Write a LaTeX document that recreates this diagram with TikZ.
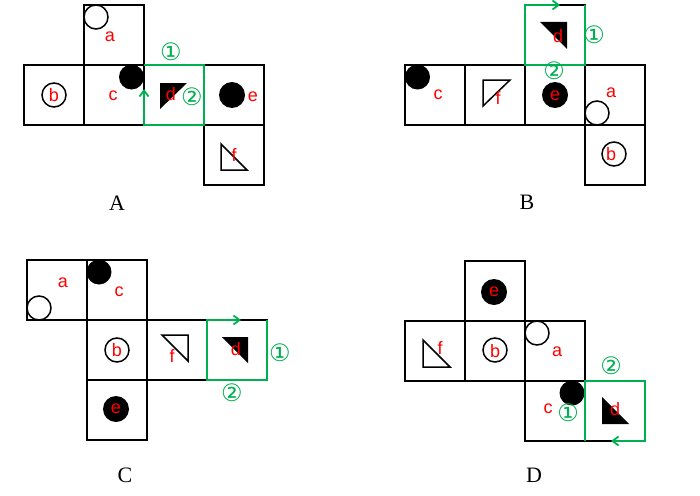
\documentclass[tikz,border=0pt]{standalone}
\usepackage{fontspec}
\setmainfont{Liberation Serif}
\newfontfamily\lblfont{Liberation Sans}
\newfontfamily\symfont{DejaVu Sans}
\usetikzlibrary{arrows.meta}
\definecolor{grn}{RGB}{0,176,80}
\begin{document}
\begin{tikzpicture}[x=1pt,y=-1pt,
  face/.style={draw, line width=2pt, minimum size=60pt, inner sep=0pt, outer sep=0pt},
  ring/.style={draw, line width=1.5pt},
  dot/.style={fill=black},
  tri/.style={draw, line width=1.5pt, line join=miter},
  letter/.style={text=red, font=\lblfont\fontsize{18}{18}\selectfont, inner sep=0pt},
  num/.style={text=grn, font=\symfont\fontsize{24}{24}\selectfont, inner sep=0pt},
  title/.style={font=\fontsize{22}{22}\selectfont, inner sep=0pt},
  gpath/.style={draw=grn, line width=2pt, line join=miter, -{Straight Barb[length=6pt,width=9pt,line width=1.8pt]}}
]
\useasboundingbox (0,0) rectangle (700,495);

% ---------------- Panel A ----------------
\node[face] (aA) at (114,35) {};
\node[face] (bA) at (54,95) {};
\node[face] (cA) at (114,95) {};
\node[face] (dA) at (174,95) {};
\node[face] (eA) at (234,95) {};
\node[face] (fA) at (234,155) {};
\draw[ring] (96,17) circle (12);
\draw[ring] (54,95) circle (12);
\fill[dot] (131.5,77) circle (12.5);
\fill (160,83) -- (187,83) -- (160,109) -- cycle;
\fill[dot] (232,95) circle (13);
\draw[tri] (221,144) -- (221,170) -- (247,170) -- cycle;
\coordinate (gA) at (144,89);
\path[gpath] (dA.north west) -- (dA.north east) -- (dA.south east) -- (dA.south west) -- (gA);
\node[letter] (la) at (110,37) {a};
\node[letter] (lb) at (54,95) {b};
\node[letter] (lc) at (113,96) {c};
\node[letter] (ld) at (171,94) {d};
\node[letter] (le) at (253,97) {e};
\node[letter] (lf) at (234,155) {f};
\node[num] (n1A) at (171,52) {①};
\node[num] (n2A) at (192,97) {②};
\node[title] (tA) at (117,203) {A};

% ---------------- Panel B ----------------
\node[face] (dB) at (555,35) {};
\node[face] (cB) at (435,95) {};
\node[face] (fB) at (495,95) {};
\node[face] (eB) at (555,95) {};
\node[face] (aB) at (615,95) {};
\node[face] (bB) at (615,155) {};
\fill (540,22) -- (567,22) -- (567,49) -- cycle;
\fill[dot] (417.5,77) circle (12.5);
\draw[tri] (483,80) -- (510,80) -- (483,106) -- cycle;
\fill[dot] (555,95) circle (13);
\draw[ring] (597,113) circle (12);
\draw[ring] (614,154) circle (12);
\coordinate (gB) at (560,5);
\path[gpath] (dB.north east) -- (dB.south east) -- (dB.south west) -- (dB.north west) -- (gB);
\node[letter] (ldB) at (558,36) {d};
\node[letter] (lcB) at (438,95) {c};
\node[letter] (lfB) at (498,98) {f};
\node[letter] (leB) at (555,96) {e};
\node[letter] (laB) at (611,93) {a};
\node[letter] (lbB) at (611,154) {b};
\node[num] (n1B) at (594,35) {①};
\node[num] (n2B) at (554,71) {②};
\node[title] (tB) at (527,202) {B};

% ---------------- Panel C ----------------
\node[face] (aC) at (57,290) {};
\node[face] (cC) at (117,290) {};
\node[face] (bC) at (117,350) {};
\node[face] (fC) at (177,350) {};
\node[face] (dC) at (237,350) {};
\node[face] (eC) at (117,410) {};
\draw[ring] (39,308) circle (12);
\fill[dot] (99,272) circle (12.5);
\draw[ring] (117,350) circle (12);
\draw[tri] (162,335) -- (188,335) -- (188,361) -- cycle;
\fill (222,337) -- (248,337) -- (248,363) -- cycle;
\fill[dot] (116,409) circle (13);
\coordinate (gC) at (241,320);
\path[gpath] (dC.north east) -- (dC.south east) -- (dC.south west) -- (dC.north west) -- (gC);
\node[letter] (laC) at (63,283) {a};
\node[letter] (lcC) at (119,292) {c};
\node[letter] (lbC) at (117,350) {b};
\node[letter] (lfC) at (172,356) {f};
\node[letter] (ldC) at (236,349) {d};
\node[letter] (leC) at (116,409) {e};
\node[num] (n1C) at (280,353) {①};
\node[num] (n2C) at (232,393) {②};
\node[title] (tC) at (125,475) {C};

% ---------------- Panel D ----------------
\node[face] (eD) at (495,291) {};
\node[face] (fD) at (435,351) {};
\node[face] (bD) at (495,351) {};
\node[face] (aD) at (555,351) {};
\node[face] (cD) at (555,411) {};
\node[face] (dD) at (615,411) {};
\fill[dot] (494,292) circle (13);
\draw[tri] (423,340) -- (423,367) -- (450,367) -- cycle;
\draw[ring] (495,350) circle (12);
\draw[ring] (537,333) circle (12);
\fill[dot] (572,393) circle (12.5);
\fill (602,397) -- (602,424) -- (629,424) -- cycle;
\coordinate (gD) at (611,441);
\path[gpath] (dD.south west) -- (dD.north west) -- (dD.north east) -- (dD.south east) -- (gD);
\node[letter] (leD) at (494,292) {e};
\node[letter] (lfD) at (440,348) {f};
\node[letter] (lbD) at (495,351) {b};
\node[letter] (laD) at (557,352) {a};
\node[letter] (lcD) at (548,409) {c};
\node[letter] (ldD) at (615,409) {d};
\node[num] (n1D) at (568,413) {①};
\node[num] (n2D) at (611,366) {②};
\node[title] (tD) at (534,475) {D};
\end{tikzpicture}
\end{document}
